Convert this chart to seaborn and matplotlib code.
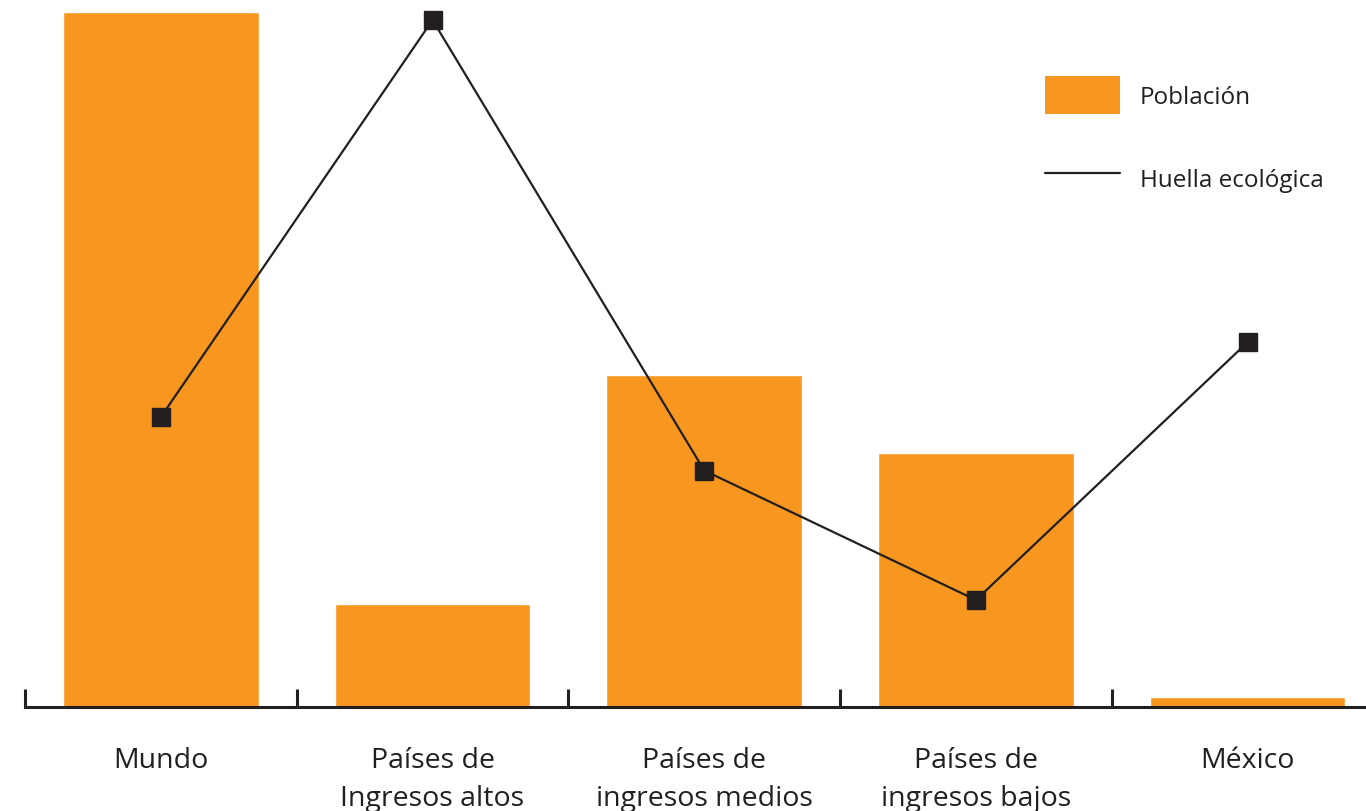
import matplotlib
matplotlib.use("Agg")
import matplotlib.pyplot as plt
import seaborn as sns
import numpy as np
import pandas as pd
from matplotlib.patches import Patch
from matplotlib.lines import Line2D

categorias = ["Mundo", "Países de\nIngresos altos", "Países de\ningresos medios",
              "Países de\ningresos bajos", "México"]
poblacion = [6.50, 0.96, 3.10, 2.37, 0.09]
huella = [2.71, 6.42, 2.21, 1.00, 3.41]

sns.set_theme(style="white")
plt.rcParams['font.family'] = ['Open Sans', 'DejaVu Sans']

W, H = 1366, 812
fig = plt.figure(figsize=(W / 100, H / 100), dpi=100)
left = 25 / W
right = (25 + 271.7 * 5) / W
bottom = (H - 708) / H
top = 1.0
ax = fig.add_axes([left, bottom, right - left, top - bottom])

df = pd.DataFrame({"cat": categorias, "pob": poblacion})
orange = "#F7971F"
dark = "#231F20"
sns.barplot(data=df, x="cat", y="pob", color=orange, width=0.72,
            saturation=1, ax=ax, zorder=2)
ax.plot(np.arange(len(categorias)), huella, color=dark, lw=1.6,
        marker="s", markersize=12.5, zorder=3)

ax.set_xlim(-0.5, 4.5)
ax.set_ylim(0, 708 / 107)
ax.set_xlabel("")
ax.set_ylabel("")
ax.set_yticks([])
for s in ["top", "right", "left"]:
    ax.spines[s].set_visible(False)
ax.spines["bottom"].set_linewidth(2.2)
ax.spines["bottom"].set_color(dark)
ax.spines["bottom"].set_zorder(4)

ax.set_xticks(np.arange(len(categorias)))
ax.set_xticklabels(categorias, fontsize=20.5, color=dark, linespacing=1.47)
ax.tick_params(axis="x", which="major", length=0, pad=28)
ax.set_xticks(np.arange(-0.5, 4.0, 1.0), minor=True)
ax.tick_params(axis="x", which="minor", direction="in", length=13,
               width=2.2, color=dark, bottom=True)

handles = [Patch(facecolor=orange, edgecolor="none"),
           Line2D([], [], color=dark, lw=1.6)]
fs = 17.5
fpx = fs * 100 / 72
ax.legend(handles, ["Población", "Huella ecológica"], frameon=False,
          loc="upper left", bbox_to_anchor=(1045 / W, 1 - 77 / H),
          bbox_transform=fig.transFigure, fontsize=fs,
          handlelength=75 / fpx, handleheight=38 / (fs * 1.06),
          labelspacing=45 / fpx, handletextpad=20 / fpx,
          borderpad=0, borderaxespad=0, labelcolor=dark)

fig.savefig("out.png", dpi=100)
